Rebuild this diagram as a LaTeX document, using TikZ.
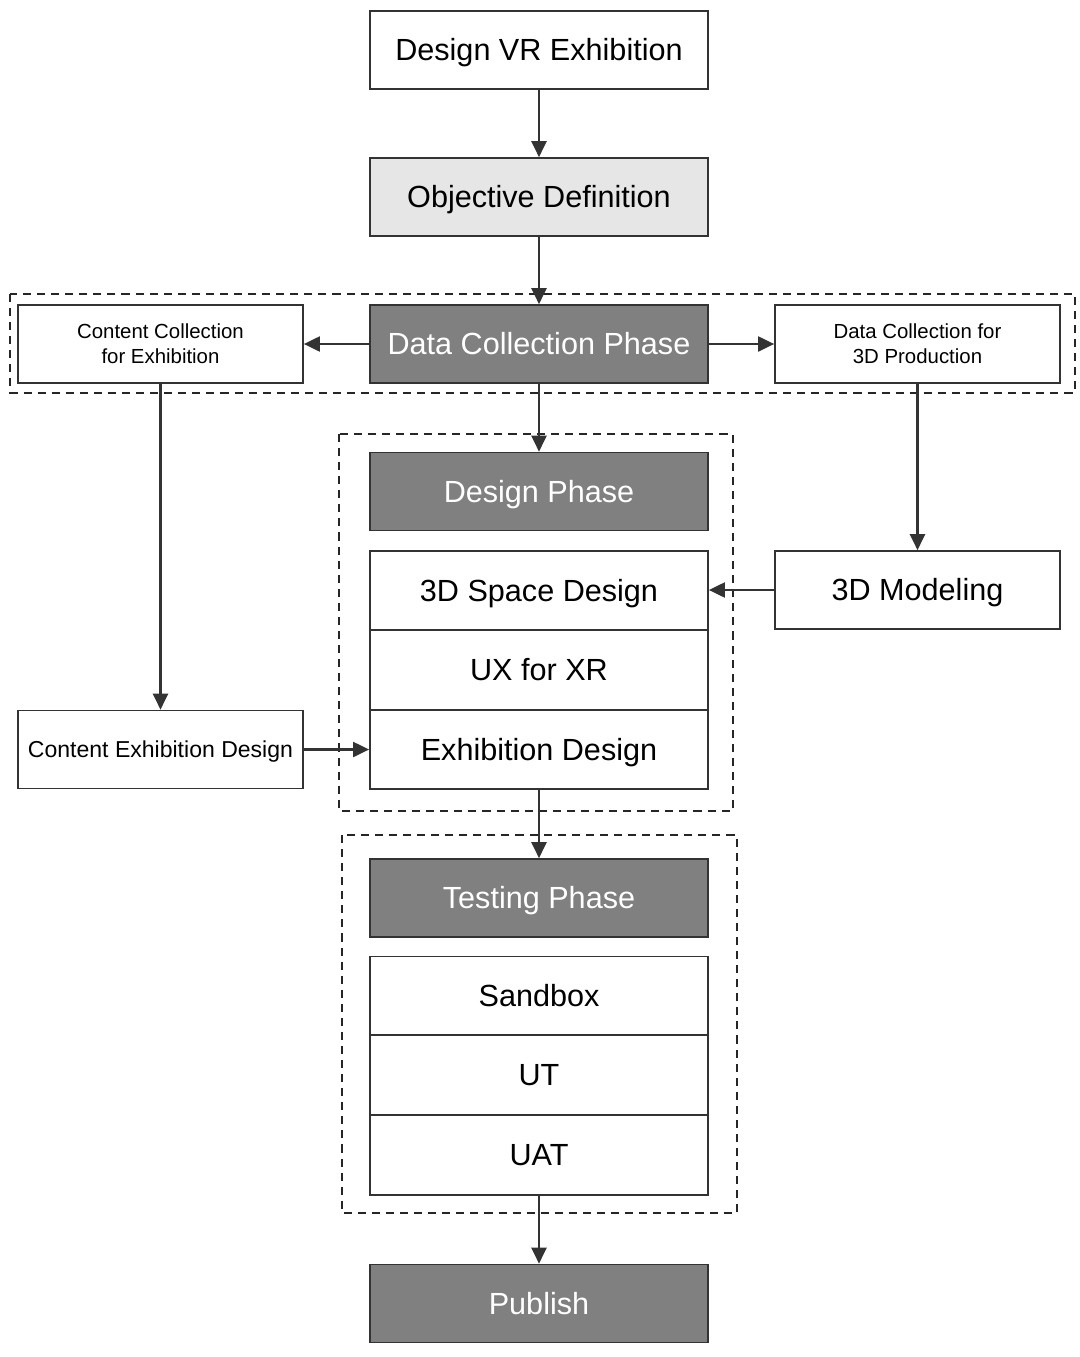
\documentclass[tikz,border=0pt]{standalone}
\usepackage{fontspec}
\setmainfont{Liberation Sans}
\usetikzlibrary{arrows.meta}
\definecolor{phasegray}{RGB}{128,128,128}
\definecolor{objgray}{RGB}{230,230,230}
\definecolor{edgegray}{RGB}{51,51,51}

\begin{document}
\begin{tikzpicture}[x=0.01cm,y=-0.01cm,
  box/.style={draw=edgegray,line width=0.45pt,minimum width=3.38cm,minimum height=0.78cm,inner sep=0pt,text height=6.2pt,text depth=0pt,font=\fontsize{8.7}{10}\selectfont},
  phasebox/.style={box,fill=phasegray,text=white},
  sidebox/.style={box,minimum width=2.85cm,align=center,text height=,text depth=,font=\fontsize{5.8}{7.1}\selectfont},
  flow/.style={draw=edgegray,line width=0.6pt,-{Triangle[length=1.6mm,width=1.5mm]}},
  group/.style={draw=black!85,line width=0.55pt,dash pattern=on 2.3pt off 1.7pt}]
  \useasboundingbox (0,0) rectangle (1080,1357);
  % page is 1080 x 1357 units, y grows downwards
  \draw[group] (10,294) rectangle (1075,393);
  \draw[group] (339,434) rectangle (733,811);
  \draw[group] (342,835) rectangle (737,1213);

  % main column
  \node[box] (vr) at (539,50) {Design VR Exhibition};
  \node[box,fill=objgray] (obj) at (539,197) {Objective Definition};
  \node[phasebox] (dcp) at (539,344) {Data Collection Phase};
  \node[phasebox] (dsp) at (539,491.5) {Design Phase};
  \node[box,minimum height=0.79cm] (space) at (539,590.5) {3D Space Design};
  \node[box,minimum height=0.80cm] (ux) at (539,670) {UX for XR};
  \node[box,minimum height=0.79cm] (exd) at (539,749.5) {Exhibition Design};
  \node[phasebox] (tst) at (539,898) {Testing Phase};
  \node[box,minimum height=0.79cm] (sbx) at (539,996) {Sandbox};
  \node[box,minimum height=0.80cm] (ut) at (539,1075) {UT};
  \node[box,minimum height=0.80cm] (uat) at (539,1155) {UAT};
  \node[phasebox] (pub) at (539,1303.5) {Publish};

  % side boxes
  \node[sidebox] (ccol) at (160.5,344) {Content Collection\\for Exhibition};
  \node[sidebox] (dc3d) at (917.5,344) {Data Collection for\\3D Production};
  \node[box,minimum width=2.85cm] (model) at (917.5,590) {3D Modeling};
  \node[box,minimum width=2.85cm,text height=4.7pt,font=\fontsize{6.55}{8}\selectfont] (cexd) at (160.5,749.5) {Content Exhibition Design};

  \draw[flow] (vr) -- (obj);
  \draw[flow] (obj) -- (dcp);
  \draw[flow] (dcp) -- (ccol);
  \draw[flow] (dcp) -- (dc3d);
  \draw[flow] (dcp) -- (dsp);
  \draw[flow] (ccol) -- (cexd);
  \draw[flow] (dc3d) -- (model);
  \draw[flow] (model) -- (model -| space.east);
  \draw[flow] (cexd) -- (exd);
  \draw[flow] (exd) -- (tst);
  \draw[flow] (uat) -- (pub);
\end{tikzpicture}
\end{document}
